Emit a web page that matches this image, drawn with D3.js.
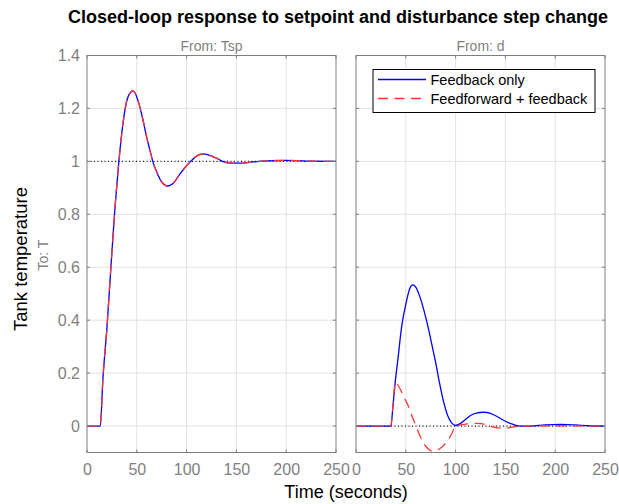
<!DOCTYPE html>
<html>
<head>
<meta charset="utf-8">
<script src="https://cdn.jsdelivr.net/npm/d3@7"></script>
<style>
  body { margin: 0; background: #fff; }
  svg { font-family: "Liberation Sans", Arial, sans-serif; }
  .tick text { fill: #7f7f7f; font-size: 16px; }
  .grid line { stroke: #e1e1e1; }
</style>
</head>
<body>
<script>
"use strict";

// --- data (time in seconds, response) ---
var xTicks = [0, 50, 100, 150, 200, 250];
var yTicks = [0, 0.2, 0.4, 0.6, 0.8, 1, 1.2, 1.4];
var panelTitles = ["From: Tsp", "From: d"];
var seriesNames = ["Feedback only", "Feedforward + feedback"];

// setpoint response (same for both designs)
var setpointT = [0, 13.3, 16, 20, 24, 28, 32, 36, 40, 44, 46, 48, 52, 56, 60, 64, 66, 70, 75, 81, 86, 92, 98, 104, 110, 117, 124, 130, 136, 145, 153, 165, 180, 200, 220, 250];
var setpointY = [0, 0, 0.18, 0.37, 0.6, 0.82, 1.0, 1.14, 1.23, 1.262, 1.266, 1.26, 1.22, 1.16, 1.09, 1.03, 1.0, 0.96, 0.922, 0.907, 0.915, 0.945, 0.975, 1.0, 1.02, 1.028, 1.022, 1.012, 1.0, 0.993, 0.993, 0.997, 1.002, 1.004, 1.001, 1.0];

// disturbance response, feedback only
var fbT = [0, 35, 37, 39.4, 42, 46, 50, 54, 57, 60, 64, 68, 72, 76, 80, 84, 88, 92, 96, 100, 105, 110, 115, 120, 128, 135, 142, 150, 158, 165, 175, 190, 205, 220, 235, 250];
var fbY = [0, 0, 0.07, 0.167, 0.25, 0.38, 0.46, 0.52, 0.533, 0.525, 0.49, 0.44, 0.38, 0.31, 0.24, 0.16, 0.09, 0.04, 0.012, 0.002, 0.01, 0.025, 0.04, 0.048, 0.052, 0.048, 0.035, 0.018, 0.006, 0.0, 0.0, 0.004, 0.006, 0.004, 0.001, 0];

// disturbance response, feedforward + feedback
var ffT = [0, 35, 37, 39.4, 42, 45, 48, 52, 56, 60, 64, 68, 72, 77, 82, 86, 91, 96, 100, 105, 112, 120, 125, 132, 138, 145, 150, 157, 165, 180, 200, 250];
var ffY = [0, 0, 0.07, 0.167, 0.155, 0.135, 0.11, 0.08, 0.04, 0.003, -0.035, -0.065, -0.085, -0.095, -0.09, -0.08, -0.06, -0.03, 0, 0.004, 0.008, 0.01, 0.009, 0.003, -0.004, -0.008, -0.008, -0.004, -0.001, 0.001, 0.001, 0];

function zip(t, y) { return t.map(function(d, i) { return {t: d, v: y[i]}; }); }

var panels = [
  {title: panelTitles[0], left: 87, ref: 1, fb: zip(setpointT, setpointY), ff: zip(setpointT, setpointY)},
  {title: panelTitles[1], left: 356, ref: 0, fb: zip(fbT, fbY), ff: zip(ffT, ffY)}
];

var W = 619, H = 504;
var plotTop = 55.5, plotBottom = 452.5, pw = 249;
var dash = "10,6.5";

var svg = d3.select("body").append("svg")
    .attr("width", W)
    .attr("height", H);

var yScale = d3.scaleLinear().domain([-0.1, 1.4]).range([plotBottom, plotTop]);

panels.forEach(function(p, i) {
  var xScale = d3.scaleLinear().domain([0, 250]).range([0, pw]);
  var g = svg.append("g").attr("transform", "translate(" + p.left + ",0)");

  // gridlines
  g.append("g").attr("class", "grid")
    .selectAll("line").data(xTicks.slice(1, -1)).enter().append("line")
      .attr("x1", xScale).attr("x2", xScale)
      .attr("y1", plotTop).attr("y2", plotBottom);
  g.append("g").attr("class", "grid")
    .selectAll("line").data(yTicks).enter().append("line")
      .attr("x1", 0).attr("x2", pw)
      .attr("y1", yScale).attr("y2", yScale);

  // reference (dotted) line
  g.append("line")
    .attr("x1", 0).attr("x2", pw)
    .attr("y1", yScale(p.ref)).attr("y2", yScale(p.ref))
    .attr("stroke", "#222").attr("stroke-width", 1.2)
    .attr("stroke-dasharray", "1,2.5");

  var line = d3.line()
    .x(function(d) { return xScale(d.t); })
    .y(function(d) { return yScale(d.v); })
    .curve(d3.curveMonotoneX);

  g.append("path").datum(p.fb)
    .attr("d", line).attr("fill", "none")
    .attr("stroke", "#0000ff").attr("stroke-width", 1.3);
  g.append("path").datum(p.ff)
    .attr("d", line).attr("fill", "none")
    .attr("stroke", "#ff3333").attr("stroke-width", 1.3)
    .attr("stroke-dasharray", dash);

  // axes
  var xAxis = d3.axisBottom(xScale).tickValues(xTicks).tickSize(0).tickPadding(11)
    .tickFormat(d3.format("d"));
  g.append("g").attr("transform", "translate(0," + plotBottom + ")").call(xAxis)
    .call(function(s) { s.select(".domain").remove(); });

  if (i === 0) {
    var yAxis = d3.axisLeft(yScale).tickValues(yTicks).tickSize(0).tickPadding(7)
      .tickFormat(function(d) { return d3.format("~g")(d); });
    g.append("g").call(yAxis)
      .call(function(s) { s.select(".domain").remove(); });
  }

  // tick marks inside box, all four sides
  var tk = g.append("g").attr("stroke", "#7f7f7f");
  xTicks.forEach(function(t) {
    tk.append("line").attr("x1", xScale(t)).attr("x2", xScale(t)).attr("y1", plotBottom).attr("y2", plotBottom - 3);
    tk.append("line").attr("x1", xScale(t)).attr("x2", xScale(t)).attr("y1", plotTop).attr("y2", plotTop + 3);
  });
  yTicks.forEach(function(v) {
    tk.append("line").attr("x1", 0).attr("x2", 3).attr("y1", yScale(v)).attr("y2", yScale(v));
    tk.append("line").attr("x1", pw).attr("x2", pw - 3).attr("y1", yScale(v)).attr("y2", yScale(v));
  });

  g.append("rect")
    .attr("x", 0).attr("y", plotTop).attr("width", pw).attr("height", plotBottom - plotTop)
    .attr("fill", "none").attr("stroke", "#7f7f7f").attr("stroke-width", 1);

  g.append("text")
    .attr("x", pw / 2).attr("y", plotTop - 5)
    .attr("text-anchor", "middle")
    .attr("fill", "#7f7f7f").attr("font-size", 14)
    .text(p.title);
});

// legend
var lg = svg.append("g").attr("transform", "translate(373,69.5)");
lg.append("rect").attr("width", 222).attr("height", 43)
  .attr("fill", "#fff").attr("stroke", "#000").attr("stroke-width", 1);
[["#0000ff", null], ["#ff3333", dash]].forEach(function(s, i) {
  var y = 10 + i * 19;
  lg.append("line").attr("x1", 5).attr("x2", 53).attr("y1", y).attr("y2", y)
    .attr("stroke", s[0]).attr("stroke-width", 1.3)
    .attr("stroke-dasharray", s[1]);
  lg.append("text").attr("x", 57.5).attr("y", y + 5)
    .attr("font-size", 14.5).attr("fill", "#000")
    .text(seriesNames[i]);
});

// titles and labels
svg.append("text")
  .attr("x", 338).attr("y", 23)
  .attr("text-anchor", "middle")
  .attr("font-size", 18).attr("font-weight", "bold")
  .text("Closed-loop response to setpoint and disturbance step change");

svg.append("text")
  .attr("x", 346).attr("y", 498)
  .attr("text-anchor", "middle")
  .attr("font-size", 18)
  .text("Time (seconds)");

svg.append("text")
  .attr("transform", "translate(27,259) rotate(-90)")
  .attr("text-anchor", "middle")
  .attr("font-size", 18.5)
  .text("Tank temperature");

svg.append("text")
  .attr("transform", "translate(48,255) rotate(-90)")
  .attr("text-anchor", "middle")
  .attr("fill", "#7f7f7f").attr("font-size", 14)
  .text("To: T");
</script>
</body>
</html>
